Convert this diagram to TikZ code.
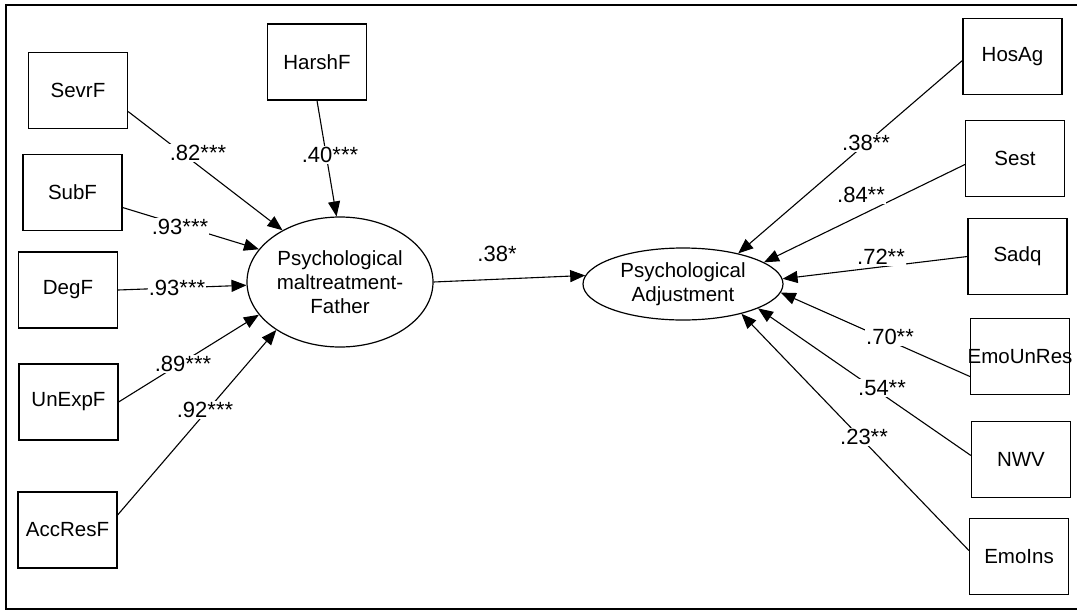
\documentclass[tikz,border=0pt]{standalone}
\usepackage{fontspec}
\setmainfont{Liberation Sans}
\usetikzlibrary{arrows.meta,calc,shapes.geometric}
\begin{document}
\begin{tikzpicture}[x=1pt,y=-1pt,
  obs/.style={draw,line width=1.2pt,minimum width=99pt,minimum height=76pt,inner sep=0pt,font=\fontsize{20.5}{24}\selectfont},
  lat/.style={draw,ellipse,line width=1.2pt,inner sep=0pt,align=center,font=\fontsize{20.5}{24}\selectfont},
  path/.style={line width=1.1pt,-{Triangle[length=15pt,width=12pt]}},
  lbl/.style={fill=white,inner sep=1pt,font=\fontsize{22}{24}\selectfont}]
\useasboundingbox (0,0) rectangle (1077,611);
\draw[line width=1.8pt] (1077,5) -- (6,5) -- (6,609) -- (1077,609);
% left observed
\node[obs] (sevrf) at (78,90.5) {SevrF};
\node[obs] (harshf) at (317,62) {HarshF};
\node[obs] (subf) at (72.5,192.5) {SubF};
\node[obs] (degf) at (68,290) {DegF};
\node[obs] (unexpf) at (68.5,402) {UnExpF};
\node[obs] (accresf) at (67.5,530) {AccResF};
% right observed
\node[obs] (hosag) at (1012.5,56.5) {HosAg};
\node[obs] (sest) at (1015,158.5) {Sest};
\node[obs] (sadq) at (1017.5,256.5) {Sadq};
\node[obs] (emounres) at (1020,356.5) {\makebox[0pt]{EmoUnRes}};
\node[obs] (nwv) at (1021,459.5) {NWV};
\node[obs] (emoins) at (1019,556.5) {EmoIns};
% latent
\node[lat,minimum width=186pt,minimum height=130pt] (fa) at (340,282) {Psychological\\maltreatment-\\Father};
\node[lat,minimum width=200pt,minimum height=72pt] (pa) at (683,284) {Psychological\\Adjustment};
% paths to father
\draw[path] ($(sevrf.east)+(0,21)$) -- (fa.138);
\draw[path] (harshf.south) -- (fa.93);
\draw[path] ($(subf.east)+(0,15)$) -- (fa.158);
\draw[path] (degf.east) -- (fa.182);
\draw[path] (unexpf.east) -- (fa.202);
\draw[path] ($(accresf.east)+(0,-15)$) -- (fa.217);
% main path
\draw[path] (fa.east) -- (pa.175);
% paths to adjustment
\draw[path] ($(hosag.west)+(0,4)$) -- (pa.29);
\draw[path] ($(sest.west)+(0,6)$) -- (pa.15);
\draw[path] (sadq.west) -- (pa.3);
\draw[path] ($(emounres.west)+(0,20)$) -- (pa.-5);
\draw[path] ($(nwv.west)+(0,-4)$) -- (pa.-18);
\draw[path] ($(emoins.west)+(0,-6)$) -- (pa.-27);
% labels
\node[lbl] (l1) at (198,153) {.82***};
\node[lbl] (l2) at (330,155) {.40***};
\node[lbl] (l3) at (180,227) {.93***};
\node[lbl] (l4) at (177,288) {.93***};
\node[lbl] (l5) at (183,364) {.89***};
\node[lbl] (l6) at (205,410) {.92***};
\node[lbl] (l7) at (497,254) {.38*};
\node[lbl] (l8) at (866,143) {.38**};
\node[lbl] (l9) at (861,195) {.84**};
\node[lbl] (l10) at (881,257) {.72**};
\node[lbl] (l11) at (890,337) {.70**};
\node[lbl] (l12) at (882,388) {.54**};
\node[lbl] (l13) at (864,437) {.23**};
\end{tikzpicture}
\end{document}
